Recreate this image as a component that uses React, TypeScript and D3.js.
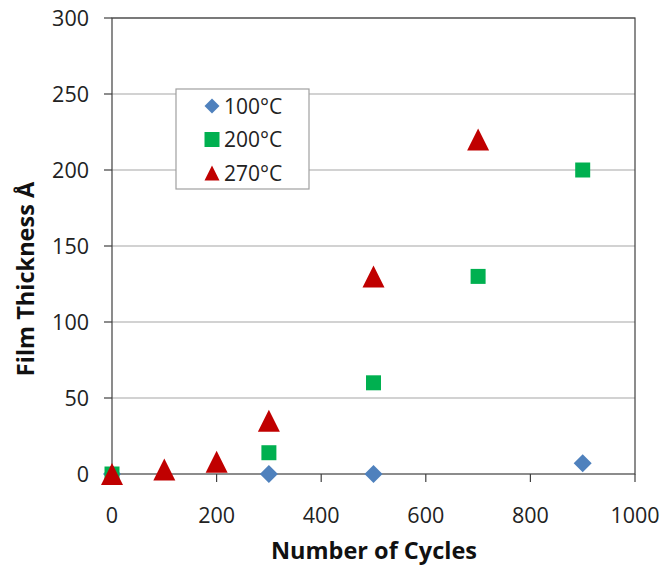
import React from 'react';
import * as d3 from 'd3';

const seriesNames = ['100°C', '200°C', '270°C'];
const cycles100 = [0, 300, 500, 900];
const thick100 = [0, 0, 0, 7];
const cycles200 = [0, 300, 500, 700, 900];
const thick200 = [0, 14, 60, 130, 200];
const cycles270 = [0, 100, 200, 300, 500, 700];
const thick270 = [0, 3, 8, 35, 130, 220];
const xTicks = [0, 200, 400, 600, 800, 1000];
const yTicks = [0, 50, 100, 150, 200, 250, 300];

const colors = ['#4f81bd', '#00b050', '#c00000'];
const font = '"Open Sans", Carlito, sans-serif';

// marker shapes, centred on their bounding box like Excel does
function markerPath(kind: number, s: number) {
  const p = d3.path();
  const h = s / 2;
  if (kind === 0) {
    p.moveTo(0, -h); p.lineTo(h, 0); p.lineTo(0, h); p.lineTo(-h, 0);
  } else if (kind === 1) {
    p.rect(-h, -h, s, s);
  } else {
    p.moveTo(0, -h); p.lineTo(h, h); p.lineTo(-h, h);
  }
  p.closePath();
  return p.toString();
}
const markerSize = [18, 15, 22];

export default function App() {
  const W = 660, H = 567;
  const m = { left: 112, right: 635, top: 18, bottom: 474 };
  const x = d3.scaleLinear().domain([0, 1000]).range([m.left, m.right]);
  const y = d3.scaleLinear().domain([0, 300]).range([m.bottom, m.top]);

  const series = [
    cycles100.map((c, i) => [c, thick100[i]]),
    cycles200.map((c, i) => [c, thick200[i]]),
    cycles270.map((c, i) => [c, thick270[i]]),
  ];

  const legend = { x: 176, y: 89, w: 133, h: 100 };

  return (
    <svg width={W} height={H} style={{ position: 'absolute', left: 0, top: 0, background: '#fff' }}>
      {/* gridlines */}
      {yTicks.slice(1).map(t => (
        <line key={'g' + t} x1={m.left} x2={m.right} y1={y(t)} y2={y(t)} stroke="#a6a6a6" strokeWidth={1.2} />
      ))}
      {/* plot border */}
      <rect x={m.left} y={m.top} width={m.right - m.left} height={m.bottom - m.top} fill="none" stroke="#404040" strokeWidth={1.2} />
      {/* y ticks */}
      {yTicks.map(t => (
        <g key={'y' + t}>
          <line x1={m.left - 8} x2={m.left} y1={y(t)} y2={y(t)} stroke="#404040" strokeWidth={1.2} />
          <text x={89} y={y(t)} dy="0.36em" textAnchor="end" fontFamily={font} fontSize={21.5} fill="#222">{t}</text>
        </g>
      ))}
      {/* x ticks */}
      {xTicks.map(t => (
        <g key={'x' + t}>
          <line x1={x(t)} x2={x(t)} y1={m.bottom} y2={m.bottom + 8} stroke="#404040" strokeWidth={1.2} />
          <text x={x(t)} y={515} dy="0.36em" textAnchor="middle" fontFamily={font} fontSize={21.5} fill="#222">{t}</text>
        </g>
      ))}
      {/* legend */}
      <rect x={legend.x} y={legend.y} width={legend.w} height={legend.h} fill="#fff" stroke="#a0a0a0" strokeWidth={1.2} />
      {seriesNames.map((n, i) => (
        <g key={n} transform={`translate(0,${106 + i * 33.5})`}>
          <path d={markerPath(i, 15)} transform="translate(212,0)" fill={colors[i]} />
          <text x={224} y={0} dy="0.36em" fontFamily={font} fontSize={21} fill="#222">{n}</text>
        </g>
      ))}
      {/* data */}
      {series.map((pts, i) => (
        <g key={'s' + i} fill={colors[i]}>
          {pts.map((d, j) => (
            <path key={j} d={markerPath(i, markerSize[i])} transform={`translate(${x(d[0])},${y(d[1])})`} />
          ))}
        </g>
      ))}
      {/* axis titles */}
      <text x={374} y={551} dy="0.36em" textAnchor="middle" fontFamily={font} fontSize={23.5} fontWeight="bold" fill="#111">Number of Cycles</text>
      <text transform="translate(26,279) rotate(-90)" textAnchor="middle" dy="0.36em" fontFamily={font} fontSize={23.5} fontWeight="bold" fill="#111">Film Thickness Å</text>
    </svg>
  );
}
